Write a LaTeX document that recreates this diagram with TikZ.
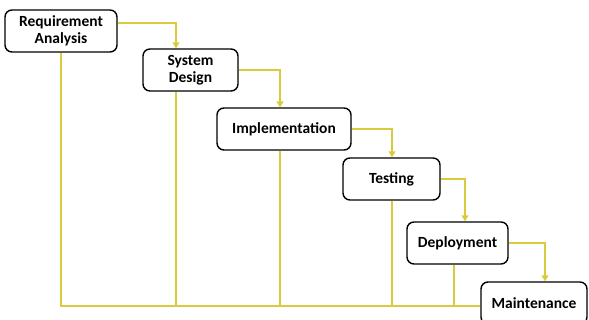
\documentclass[tikz,border=0pt]{standalone}
\usepackage{fontspec}
\setmainfont{Carlito}
\usetikzlibrary{arrows.meta}
\definecolor{flowyel}{RGB}{218,203,62}
\tikzset{
  stage/.style={draw=black, line width=1.4pt, rounded corners=7pt, fill=white,
    minimum height=42pt, inner sep=2pt, align=center,
    font=\fontsize{15.5}{17.5}\selectfont\bfseries},
  flow/.style={draw=flowyel, line width=1.8pt, -{Triangle[width=7pt,length=6pt]}},
  link/.style={draw=flowyel, line width=1.8pt}
}
\begin{document}
\begin{tikzpicture}[x=1pt,y=-1pt]
\useasboundingbox (0,0) rectangle (589,320);
\coordinate (a1) at (176,0);
\coordinate (a2) at (280,0);
\coordinate (a3) at (392,0);
\coordinate (a4) at (465,0);
\coordinate (a5) at (545,0);
\coordinate (d5) at (454,0);
\coordinate (base) at (0,306);
% lines behind boxes
\node[stage, minimum width=112pt] (b1) at (61,31) {Requirement\\Analysis};
\node[stage, minimum width=95pt] (b2) at (190.5,70) {System\\Design};
\node[stage, minimum width=134pt] (b3) at (284,129) {Implementation};
\node[stage, minimum width=97pt] (b4) at (391.5,179) {Testing};
\node[stage, minimum width=101pt] (b5) at (457.5,243) {Deployment};
\node[stage, minimum width=106pt] (b6) at (534,303) {Maintenance};
% feedback lines
\draw[link] (b1.south) -- (b1.south |- base) -- (b6.west |- base);
\draw[link] (b2.south -| a1) -- (a1 |- base);
\draw[link] (b3.south -| a2) -- (a2 |- base);
\draw[link] (b4.south -| a3) -- (a3 |- base);
\draw[link] (b5.south -| d5) -- (d5 |- base);
% forward arrows
\draw[flow] ([yshift=8pt]b1.east) -| (b2.north -| a1);
\draw[flow] (b2.east) -| (b3.north -| a2);
\draw[flow] (b3.east) -| (b4.north -| a3);
\draw[flow] (b4.east) -| (b5.north -| a4);
\draw[flow] (b5.east) -| (b6.north -| a5);
\end{tikzpicture}
\end{document}
